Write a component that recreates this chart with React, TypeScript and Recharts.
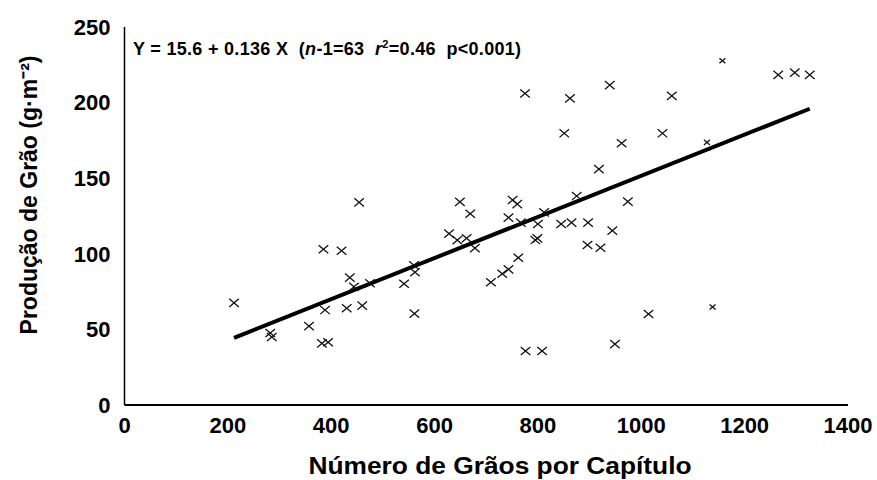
import { ScatterChart, Scatter, XAxis, YAxis, ReferenceLine } from 'recharts'

// grains per head (x) and grain yield g/m2 (y)
const grainsPerHead = [
  212, 282, 285, 357, 385, 388, 382, 394, 420, 430, 436, 444, 454, 460, 475,
  541, 560, 562, 561, 649, 669, 628, 644, 662, 678, 709, 731, 743, 762, 743,
  751, 760, 767, 795, 799, 800, 812, 875, 845, 865, 897, 896, 921, 776, 808,
  775, 862, 939, 1059, 851, 1041, 962, 918, 974, 944, 1014, 949, 1265, 1297, 1326,
]
const grainYield = [
  67.5, 47.6, 45, 52.2, 103, 62.8, 40.8, 41.5, 102, 64, 84.2, 78.2, 134, 65.7, 80.5,
  80.2, 92.4, 87.8, 60.4, 134.3, 126.5, 113.3, 109, 110.3, 103.8, 81.2, 86.8, 89.7, 97.4, 123.9,
  135.6, 132.9, 120.6, 109.1, 110.2, 119.7, 127.4, 138.2, 119.7, 120.6, 120.6, 105.8, 104, 35.7, 35.7,
  206, 202.8, 211.6, 204.4, 179.7, 179.7, 173.1, 156, 134.5, 115.3, 60.2, 40.3, 218.3, 219.8, 218.3,
]
// points printed lighter / smaller in the original
const faintGrains = [1127, 1138, 1157]
const faintYield = [173.7, 64.8, 227.7]

const xTicks = [0, 200, 400, 600, 800, 1000, 1200, 1400]
const yTicks = [0, 50, 100, 150, 200, 250]

const intercept = 15.6
const slope = 0.136
const fitRange = [212, 1326]

const points = grainsPerHead.map((x, i) => ({ x, y: grainYield[i] }))
const faint = faintGrains.map((x, i) => ({ x, y: faintYield[i] }))
const fitSegment = fitRange.map((x) => ({ x, y: intercept + slope * x }))

const font = '"Liberation Sans", Arial, sans-serif'

function Cross(props: any) {
  const { cx, cy } = props
  const h = props.small ? 3 : 4.8
  return (
    <path
      d={`M${cx - h},${cy - h * 0.85}L${cx + h},${cy + h * 0.85}M${cx + h},${cy - h * 0.85}L${cx - h},${cy + h * 0.85}`}
      stroke='#111'
      strokeWidth={1.3}
      fill='none'
    />
  )
}

export default function App() {
  return (
    <div style={{ position: 'absolute', left: 0, top: 0, width: 877, height: 480, background: '#fff', fontFamily: font }}>
      <ScatterChart width={877} height={480} margin={{ top: 27, right: 29, bottom: 45, left: 64.5 }}>
        <XAxis
          type='number'
          dataKey='x'
          domain={[0, 1400]}
          ticks={xTicks}
          height={30}
          tickLine={false}
          tickSize={4}
          tickMargin={8}
          axisLine={{ stroke: '#000', strokeWidth: 2 }}
          tick={{ fill: '#000', fontSize: 22, fontWeight: 'bold', fontFamily: font }}
          interval={0}
        />
        <YAxis
          type='number'
          dataKey='y'
          domain={[0, 250]}
          ticks={yTicks}
          width={60}
          tickLine={false}
          tickSize={4}
          tickMargin={10}
          axisLine={{ stroke: '#000', strokeWidth: 1.5 }}
          tick={{ fill: '#000', fontSize: 22, fontWeight: 'bold', fontFamily: font }}
          interval={0}
        />
        <ReferenceLine segment={fitSegment} stroke='#000' strokeWidth={4} />
        <Scatter data={points} shape={<Cross />} isAnimationActive={false} />
        <Scatter data={faint} shape={<Cross small />} isAnimationActive={false} />
      </ScatterChart>
      <div
        style={{
          position: 'absolute',
          left: 133,
          top: 38,
          fontSize: 18,
          fontWeight: 'bold',
          letterSpacing: 0.3,
          whiteSpace: 'pre',
          color: '#000',
        }}
      >
        Y = 15.6 + 0.136 X  (<i>n</i>-1=63  <i>r</i><sup style={{ fontSize: 11 }}>2</sup>=0.46  p&lt;0.001)
      </div>
      <div
        style={{
          position: 'absolute',
          left: 28,
          top: 195,
          transform: 'translate(-50%, -50%) rotate(-90deg)',
          fontSize: 23,
          fontWeight: 'bold',
          whiteSpace: 'nowrap',
          color: '#000',
        }}
      >
        Produção de Grão (g·m⁻²)
      </div>
      <div
        style={{
          position: 'absolute',
          left: 500,
          top: 466,
          transform: 'translate(-50%, -50%) scaleX(1.12)',
          fontSize: 23.5,
          fontWeight: 'bold',
          whiteSpace: 'nowrap',
          color: '#000',
        }}
      >
        Número de Grãos por Capítulo
      </div>
    </div>
  )
}
